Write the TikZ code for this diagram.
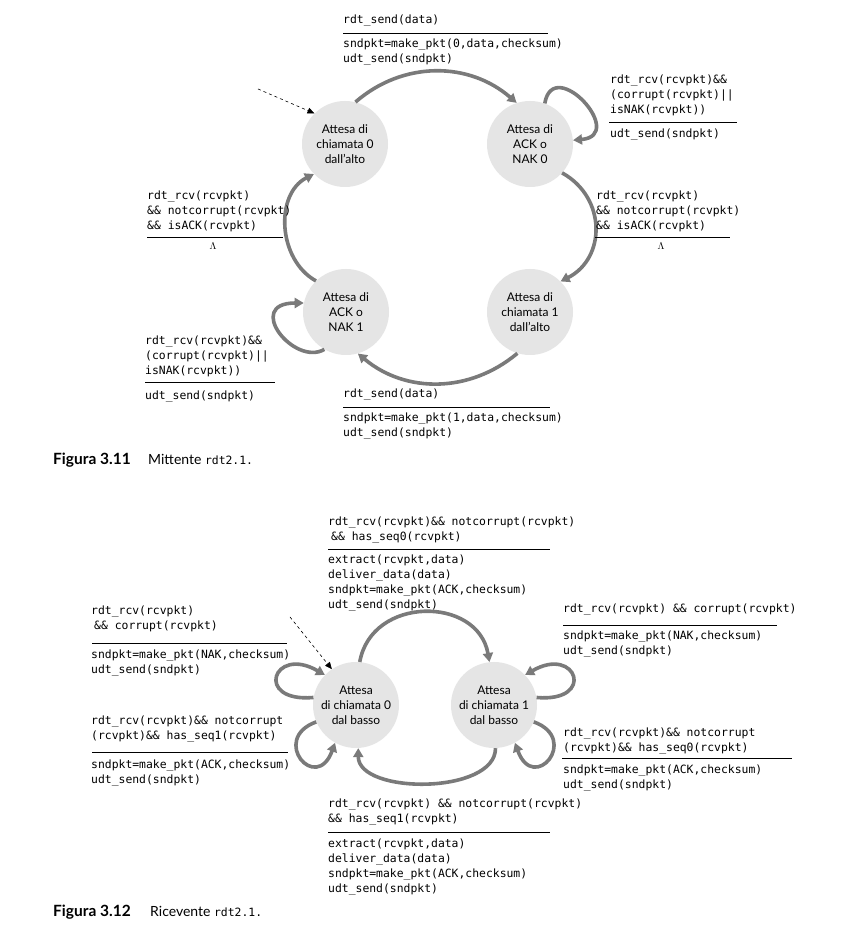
\documentclass[tikz,border=0pt]{standalone}
\usepackage{fontspec}
\setmainfont{Lato}
\setmonofont{DejaVu Sans Mono}
\usetikzlibrary{arrows.meta}
\definecolor{stategray}{RGB}{229,229,229}
\definecolor{arrowgray}{RGB}{122,122,122}
\newcommand{\monof}{\ttfamily\fontsize{11.4}{15}\selectfont}
\newcommand{\statef}{\fontsize{12}{15}\selectfont}
\tikzset{
  fsmstate/.style={circle, fill=stategray, minimum size=86pt, inner sep=0pt, align=center, font=\statef},
  fsmarc/.style={draw=arrowgray, line width=3.6pt, -{Triangle[length=9pt,width=10pt]}},
  initarr/.style={draw=black, dashed, line width=0.6pt, -{Triangle[length=7pt,width=6pt]}},
  lbl/.style={anchor=base west, inner sep=0pt, align=left, font=\monof},
  lam/.style={anchor=base, inner sep=0pt},
  seprule/.style={draw=black, line width=0.8pt},
  captxt/.style={anchor=base west, inner sep=0pt, font=\fontsize{14}{15}\selectfont},
  capbold/.style={anchor=base west, inner sep=0pt, font=\fontsize{15.5}{15}\selectfont\bfseries},
}
\begin{document}
\begin{tikzpicture}[x=1pt,y=1pt]
\useasboundingbox (0,0) rectangle (849,932);
\fill[white] (0,0) rectangle (849,932);

% ---------------- Figure 3.11 ----------------
\node[fsmstate] (A) at (345,788) {Attesa di\\chiamata 0\\dall’alto};
\node[fsmstate] (B) at (530,788) {Attesa di\\ACK o\\NAK 0};
\node[fsmstate] (C) at (346,620) {Attesa di\\ACK o\\NAK 1};
\node[fsmstate] (D) at (530,620) {Attesa di\\chiamata 1\\dall’alto};

\coordinate (startA) at (258,843);
\draw[initarr] (startA) -- (A.135);

\draw[fsmarc] (A.76) to[out=41,in=139] (B.108);
\draw[fsmarc] (B.-42) to[out=-29,in=27,looseness=1.2] (D.45);
\draw[fsmarc] (D.-107) to[out=-140,in=-40] (C.-74);
\draw[fsmarc] (C.134) to[out=151,in=207,looseness=1.05] (A.-136);
\draw[fsmarc] (B.70) .. controls +(80:50) and +(5:55) .. (B.5);
\draw[fsmarc] (C.-120) .. controls +(-150:35) and +(180:60) .. (C.168);

% multi-line labels are placed by the baseline of their last line
\node[lbl] (t1g) at (343,908.5) {rdt\_send(data)};
\draw[seprule] (343,899) -- (548,899);
\node[lbl] (t1a) at (343,869.5) {sndpkt=make\_pkt(0,data,checksum)\\udt\_send(sndpkt)};

\node[lbl] (t2g) at (610,818.5) {rdt\_rcv(rcvpkt)\&\&\\(corrupt(rcvpkt)||\\isNAK(rcvpkt))};
\draw[seprule] (609,810) -- (737,810);
\node[lbl] (t2a) at (610,794.5) {udt\_send(sndpkt)};

\node[lbl] (t3g) at (596,702.5) {rdt\_rcv(rcvpkt)\\\&\& notcorrupt(rcvpkt)\\\&\& isACK(rcvpkt)};
\draw[seprule] (595,695) -- (730,695);
\node[lam] (t3a) at (661,682.5) {$\Lambda$};

\node[lbl] (t4g) at (147,702.5) {rdt\_rcv(rcvpkt)\\\&\& notcorrupt(rcvpkt)\\\&\& isACK(rcvpkt)};
\draw[seprule] (147,695) -- (283,695);
\node[lam] (t4a) at (213,682.5) {$\Lambda$};

\node[lbl] (t5g) at (145,557.5) {rdt\_rcv(rcvpkt)\&\&\\(corrupt(rcvpkt)||\\isNAK(rcvpkt))};
\draw[seprule] (145,550) -- (275,550);
\node[lbl] (t5a) at (145,532.5) {udt\_send(sndpkt)};

\node[lbl] (t6g) at (343,534.5) {rdt\_send(data)};
\draw[seprule] (343,525) -- (550,525);
\node[lbl] (t6a) at (343,495.5) {sndpkt=make\_pkt(1,data,checksum)\\udt\_send(sndpkt)};

\node[capbold] (cap1a) at (53,467.5) {Figura 3.11};
\node[captxt] (cap1b) at (148,467.5) {Mittente {\monof rdt2.1.}};

% ---------------- Figure 3.12 ----------------
\node[fsmstate] (E) at (356,227) {Attesa\\di chiamata 0\\dal basso};
\node[fsmstate] (F) at (494,227) {Attesa\\di chiamata 1\\dal basso};

\coordinate (startE) at (290,315);
\draw[initarr] (startE) -- (E.124);

\draw[fsmarc] (E.85) to[out=80,in=100,looseness=1.33] (F.96);
\draw[fsmarc] (F.-88) to[out=-90,in=-90,looseness=0.87] (E.-87);
\draw[fsmarc] (E.170) .. controls +(185:60) and +(150:60) .. (E.136);
\draw[fsmarc] (E.203) .. controls +(200:50) and +(250:55) .. (E.241);
\draw[fsmarc] (F.10) .. controls +(-5:60) and +(30:60) .. (F.44);
\draw[fsmarc] (F.-23) .. controls +(-20:50) and +(-70:55) .. (F.-61);

\node[lbl] (u1g) at (328,391.5) {rdt\_rcv(rcvpkt)\&\& notcorrupt(rcvpkt)\\\hspace*{3pt}\&\& has\_seq0(rcvpkt)};
\draw[seprule] (328,383) -- (550,383);
\node[lbl] (u1a) at (328,323.5) {extract(rcvpkt,data)\\deliver\_data(data)\\sndpkt=make\_pkt(ACK,checksum)\\udt\_send(sndpkt)};

\node[lbl] (u2g) at (91,302.5) {rdt\_rcv(rcvpkt)\\\hspace*{3pt}\&\& corrupt(rcvpkt)};
\draw[seprule] (92,289) -- (287,289);
\node[lbl] (u2a) at (91,258.5) {sndpkt=make\_pkt(NAK,checksum)\\udt\_send(sndpkt)};

\node[lbl] (u3g) at (563,319.5) {rdt\_rcv(rcvpkt) \&\& corrupt(rcvpkt)};
\draw[seprule] (563,307) -- (777,307);
\node[lbl] (u3a) at (563,277.5) {sndpkt=make\_pkt(NAK,checksum)\\udt\_send(sndpkt)};

\node[lbl] (u4g) at (91,192.5) {rdt\_rcv(rcvpkt)\&\& notcorrupt\\(rcvpkt)\&\& has\_seq1(rcvpkt)};
\draw[seprule] (92,180) -- (288,180);
\node[lbl] (u4a) at (91,148.5) {sndpkt=make\_pkt(ACK,checksum)\\udt\_send(sndpkt)};

\node[lbl] (u5g) at (563,180.5) {rdt\_rcv(rcvpkt)\&\& notcorrupt\\(rcvpkt)\&\& has\_seq0(rcvpkt)};
\draw[seprule] (562,174) -- (792,174);
\node[lbl] (u5a) at (563,143.5) {sndpkt=make\_pkt(ACK,checksum)\\udt\_send(sndpkt)};

\node[lbl] (u6g) at (328,109.5) {rdt\_rcv(rcvpkt) \&\& notcorrupt(rcvpkt)\\\&\& has\_seq1(rcvpkt)};
\draw[seprule] (328,100) -- (550,100);
\node[lbl] (u6a) at (328,39.5) {extract(rcvpkt,data)\\deliver\_data(data)\\sndpkt=make\_pkt(ACK,checksum)\\udt\_send(sndpkt)};

\node[capbold] (cap2a) at (53,15.5) {Figura 3.12};
\node[captxt] (cap2b) at (150,15.5) {Ricevente {\monof rdt2.1.}};
\end{tikzpicture}
\end{document}
